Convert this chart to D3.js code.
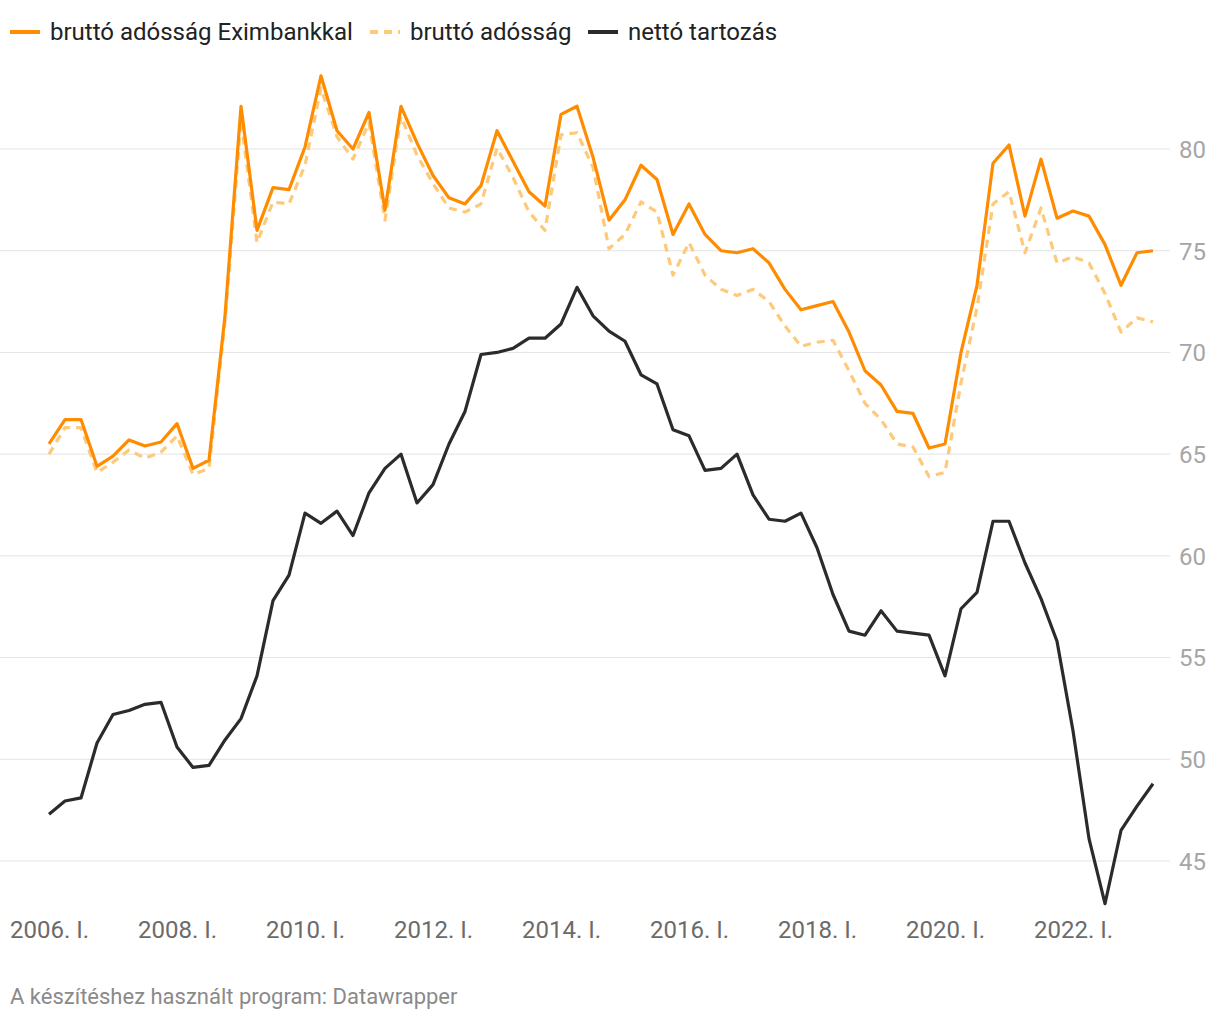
<!DOCTYPE html>
<html><head><meta charset="utf-8">
<script src="https://cdn.jsdelivr.net/npm/d3@7"></script>
<style>
body{margin:0;background:#fff;font-family:Roboto,"Noto Sans",sans-serif;}
</style></head>
<body><svg id="c" width="1220" height="1020"></svg>
<script>
const startYear = 2006;
const quarterCount = 70;
const grossExim = [65.5,66.7,66.7,64.4,64.9,65.7,65.4,65.6,66.5,64.3,64.7,71.8,82.1,76.0,78.1,78.0,80.1,83.6,80.9,80.0,81.8,77.0,82.1,80.3,78.7,77.6,77.3,78.2,80.9,79.4,77.9,77.2,81.7,82.1,79.6,76.5,77.5,79.2,78.5,75.8,77.3,75.8,75.0,74.9,75.1,74.4,73.1,72.1,72.3,72.5,71.0,69.1,68.4,67.1,67.0,65.3,65.5,70.0,73.3,79.3,80.2,76.7,79.5,76.6,76.95,76.7,75.3,73.3,74.9,75.0];
const gross = [65.0,66.3,66.3,64.1,64.6,65.2,64.8,65.1,65.9,64.0,64.3,71.5,81.4,75.4,77.4,77.3,79.2,83.0,80.6,79.5,81.3,76.5,81.6,79.7,78.3,77.1,76.9,77.3,80.05,78.6,76.9,76.0,80.7,80.8,79.1,75.1,75.8,77.4,76.9,73.8,75.4,73.8,73.1,72.8,73.1,72.5,71.3,70.3,70.5,70.6,69.1,67.5,66.7,65.5,65.35,63.9,64.1,68.5,72.2,77.3,77.9,74.9,77.1,74.4,74.7,74.4,72.9,71.0,71.7,71.5];
const net = [47.3,47.95,48.1,50.8,52.2,52.4,52.7,52.8,50.6,49.6,49.7,50.95,52.0,54.1,57.8,59.05,62.1,61.6,62.2,61.0,63.1,64.3,65.0,62.6,63.5,65.5,67.1,69.9,70.0,70.2,70.7,70.7,71.4,73.2,71.8,71.05,70.55,68.9,68.45,66.2,65.9,64.2,64.3,65.0,63.0,61.8,61.7,62.1,60.4,58.1,56.3,56.1,57.3,56.3,56.2,56.1,54.1,57.4,58.2,61.7,61.7,59.65,57.9,55.8,51.4,46.1,42.9,46.5,47.7,48.8];
const yTicks = [45,50,55,60,65,70,75,80];
const xTickIdx = [0,8,16,24,32,40,48,56,64];
const seriesNames = ["bruttó adósság Eximbankkal","bruttó adósság","nettó tartozás"];
const footer = "A készítéshez használt program: Datawrapper";

const quarters = d3.range(quarterCount);
const roman = ["I.","II.","III.","IV."];
const qLabel = i => `${startYear + Math.floor(i/4)}. ${roman[i%4]}`;

const svg = d3.select("#c");
const x = d3.scaleLinear().domain([0, quarterCount-1]).range([49, 1153]);
const y = d3.scaleLinear().domain([45, 80]).range([861, 149]);

// grid
const gGrid = svg.append("g");
gGrid.selectAll("line").data(yTicks).join("line")
  .attr("x1", 0).attr("x2", 1170)
  .attr("y1", d => y(d)).attr("y2", d => y(d))
  .attr("stroke", "#e3e3e3").attr("stroke-width", 1);

// y axis on right
const yAxis = d3.axisRight(y).tickValues(yTicks).tickSize(0).tickPadding(0);
const gy = svg.append("g").attr("transform", "translate(1179,0)").call(yAxis);
gy.select(".domain").remove();
gy.selectAll("text").attr("font-family", "Roboto, sans-serif").attr("font-size", 24)
  .attr("fill", "#a6a6a6").attr("dy", "0.35em");

// x axis
const xAxis = d3.axisBottom(x).tickValues(xTickIdx).tickFormat(qLabel).tickSize(0).tickPadding(0);
const gx = svg.append("g").attr("transform", "translate(0,921)").call(xAxis);
gx.select(".domain").remove();
gx.selectAll("text").attr("font-family", "Roboto, sans-serif").attr("font-size", 24)
  .attr("fill", "#6b6b6b").attr("dy", "0.7em");

const line = d3.line().x((d,i) => x(i)).y(d => y(d));

svg.append("path").datum(gross).attr("d", line)
  .attr("fill", "none").attr("stroke", "#ffc97a").attr("stroke-width", 3.2)
  .attr("stroke-dasharray", "8,6").attr("stroke-linejoin", "round");
svg.append("path").datum(grossExim).attr("d", line)
  .attr("fill", "none").attr("stroke", "#ff8c00").attr("stroke-width", 3.2)
  .attr("stroke-linejoin", "round");
svg.append("path").datum(net).attr("d", line)
  .attr("fill", "none").attr("stroke", "#2b2b2b").attr("stroke-width", 3.2)
  .attr("stroke-linejoin", "round");

// legend
const legend = [
  {name: seriesNames[0], x: 10, color: "#ff8c00", dash: null},
  {name: seriesNames[1], x: 370, color: "#ffc97a", dash: "8,6"},
  {name: seriesNames[2], x: 588, color: "#2b2b2b", dash: null}
];
const gl = svg.append("g");
legend.forEach(l => {
  gl.append("line").attr("x1", l.x).attr("x2", l.x + 30).attr("y1", 32).attr("y2", 32)
    .attr("stroke", l.color).attr("stroke-width", 4)
    .attr("stroke-dasharray", l.dash);
  gl.append("text").attr("x", l.x + 40).attr("y", 32).attr("dy", "0.35em")
    .attr("font-family", "Roboto, sans-serif").attr("font-size", 24).attr("fill", "#222")
    .text(l.name);
});

svg.append("text").attr("x", 10).attr("y", 1004)
  .attr("font-family", "Roboto, sans-serif").attr("font-size", 22).attr("fill", "#8a8a8a")
  .text(footer);
</script></body></html>
